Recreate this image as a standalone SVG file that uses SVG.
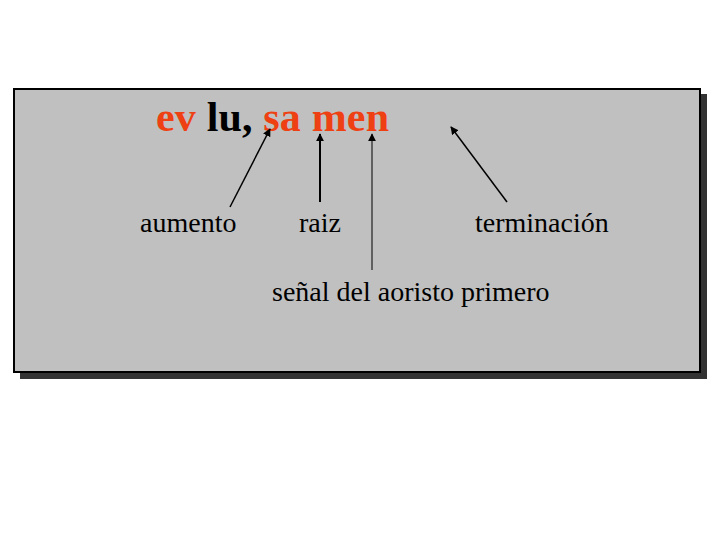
<svg xmlns="http://www.w3.org/2000/svg" width="720" height="540" viewBox="0 0 720 540">
<defs>
<style>
.lbl{font-family:"Liberation Serif","Times New Roman",serif;font-size:28px;fill:#000}
.ttl{font-family:"Liberation Serif","Times New Roman",serif;font-size:42px;font-weight:bold}
.red{fill:#ee4012}
.conn{stroke:#000;fill:none}
</style>
<marker id="ah" viewBox="0 0 10 10" refX="9" refY="5" markerWidth="8" markerHeight="8" markerUnits="userSpaceOnUse" orient="auto">
<path d="M0,0 L10,5 L0,10 z" fill="#000"/>
</marker>
</defs>
<rect width="720" height="540" fill="#fff"/>
<g id="box">
<rect x="20" y="94" width="687" height="285" fill="#333"/>
<rect x="14" y="89" width="686" height="283" fill="#c0c0c0" stroke="#000" stroke-width="2"/>
</g>
<g id="title">
<text class="ttl" x="156" y="131" textLength="233" lengthAdjust="spacing"><tspan class="red">ev</tspan> lu, <tspan class="red">sa men</tspan></text>
</g>
<g id="aumento"><text class="lbl" x="140" y="232">aumento</text></g>
<g id="raiz"><text class="lbl" x="299" y="232">raiz</text></g>
<g id="terminacion"><text class="lbl" x="475" y="232">terminación</text></g>
<g id="senal"><text class="lbl" x="272" y="301">señal del aoristo primero</text></g>
<g id="connectors">
<line class="conn" x1="230" y1="207" x2="270" y2="129" stroke-width="1.5" marker-end="url(#ah)"/>
<line class="conn" x1="320" y1="202" x2="320" y2="134" stroke-width="2" marker-end="url(#ah)"/>
<line class="conn" x1="372" y1="270" x2="372" y2="134" stroke-width="1" marker-end="url(#ah)"/>
<line class="conn" x1="507" y1="202" x2="451" y2="127" stroke-width="1.5" marker-end="url(#ah)"/>
</g>
</svg>
